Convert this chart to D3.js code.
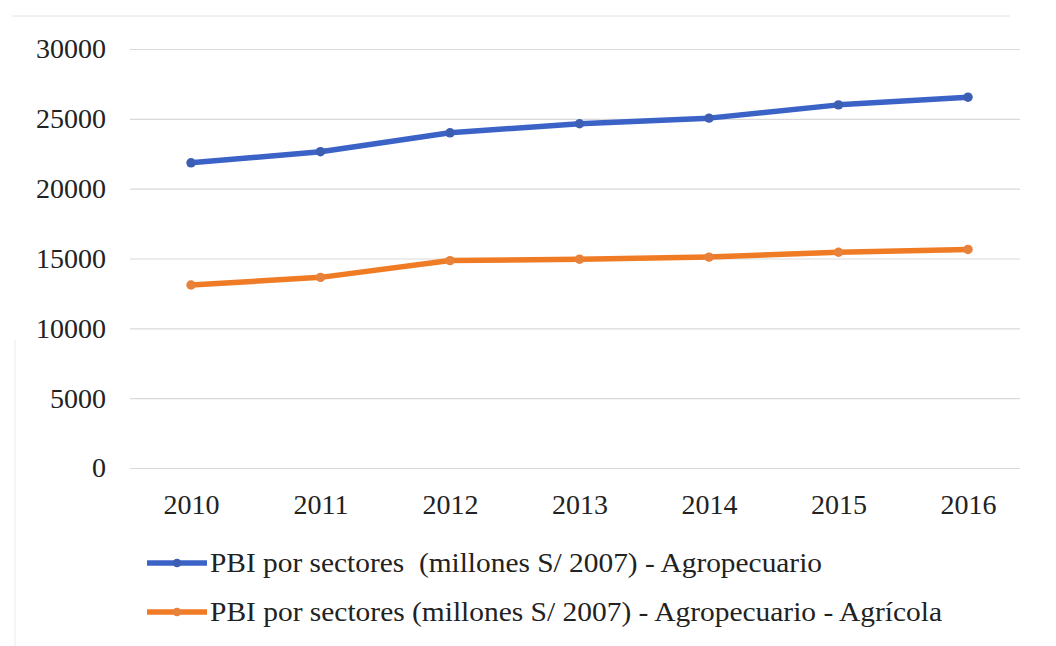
<!DOCTYPE html>
<html>
<head>
<meta charset="utf-8">
<script src="https://cdn.jsdelivr.net/npm/d3@7"></script>
<style>
html,body{margin:0;padding:0;background:#fff;}
svg{display:block;}
</style>
</head>
<body>
<svg id="chart" width="1056" height="646"></svg>
<script>
const years = ["2010","2011","2012","2013","2014","2015","2016"];
const agropecuario = [21850, 22650, 24000, 24650, 25050, 26000, 26550];
const agricola = [13100, 13650, 14850, 14950, 15100, 15450, 15650];
const yTicks = [0, 5000, 10000, 15000, 20000, 25000, 30000];
const seriesNames = [
  "PBI por sectores  (millones S/ 2007) - Agropecuario",
  "PBI por sectores (millones S/ 2007) - Agropecuario - Agrícola"
];
const seriesColors = ["#3b63c7", "#f07b25"];
const markerColors = ["#3d5fb3", "#e8823a"];
const FONT = '"Liberation Serif"';

const svg = d3.select("#chart");
const m = {left:130, right:1020, top:49, bottom:468};

svg.append("path").attr("d","M12,16 H1010").attr("stroke","#e2e2e2").attr("fill","none");
svg.append("path").attr("d","M15,340 V646").attr("stroke","#ebebeb").attr("fill","none");

const x = d3.scalePoint().domain(years).range([191, 968]);
const y = d3.scaleLinear().domain([0, 30000]).range([m.bottom, m.top]);

const grid = svg.append("g").attr("transform",`translate(${m.left},0)`)
  .call(d3.axisLeft(y).tickValues(yTicks).tickSize(-(m.right-m.left)).tickFormat(""));
grid.select(".domain").remove();
grid.selectAll("line").attr("stroke","#d9d9d9").attr("stroke-width",1.2);

const yl = svg.append("g").attr("transform",`translate(106,0)`)
  .call(d3.axisLeft(y).tickValues(yTicks).tickSize(0).tickPadding(0).tickFormat(d3.format("d")));
yl.attr("font-family", null).attr("font-size", null);
yl.select(".domain").remove();
yl.selectAll("text").style("font-family",FONT).style("font-size","28px").attr("fill","#222").attr("dy","0.32em");

const xl = svg.append("g").attr("transform",`translate(0,505)`)
  .call(d3.axisBottom(x).tickSize(0).tickPadding(0));
xl.attr("font-family", null).attr("font-size", null);
xl.select(".domain").remove();
xl.selectAll("text").style("font-family",FONT).style("font-size","28px").attr("fill","#222").attr("dy","0.32em");

const seriesData = [agropecuario, agricola];
const line = d3.line().x((d,i)=>x(years[i])).y(d=>y(d));
seriesData.forEach((vals, si) => {
  svg.append("path").datum(vals).attr("d", line)
    .attr("fill","none").attr("stroke",seriesColors[si]).attr("stroke-width",5.5)
    .attr("stroke-linejoin","round").attr("stroke-linecap","round");
  svg.append("g").selectAll("path").data(vals).join("path")
    .attr("d", d3.symbol().type(d3.symbolCircle).size(70))
    .attr("transform",(d,i)=>`translate(${x(years[i])},${y(d)})`)
    .attr("fill",markerColors[si]);
});

const legY = [563, 612];
const legW = [612, 732];
seriesNames.forEach((name, i) => {
  const g = svg.append("g");
  g.append("line").attr("x1",147).attr("x2",207).attr("y1",legY[i]).attr("y2",legY[i])
    .attr("stroke",seriesColors[i]).attr("stroke-width",5.5);
  g.append("path").attr("d", d3.symbol().type(d3.symbolCircle).size(60))
    .attr("transform",`translate(177,${legY[i]})`).attr("fill",markerColors[i]);
  g.append("text").attr("x",210).attr("y",legY[i]).attr("dy","0.32em")
    .style("font-family",FONT).style("font-size","28px").attr("fill","#222")
    .attr("textLength",legW[i]).attr("lengthAdjust","spacingAndGlyphs")
    .attr("xml:space","preserve").style("white-space","pre").text(name);
});
</script>
</body>
</html>
